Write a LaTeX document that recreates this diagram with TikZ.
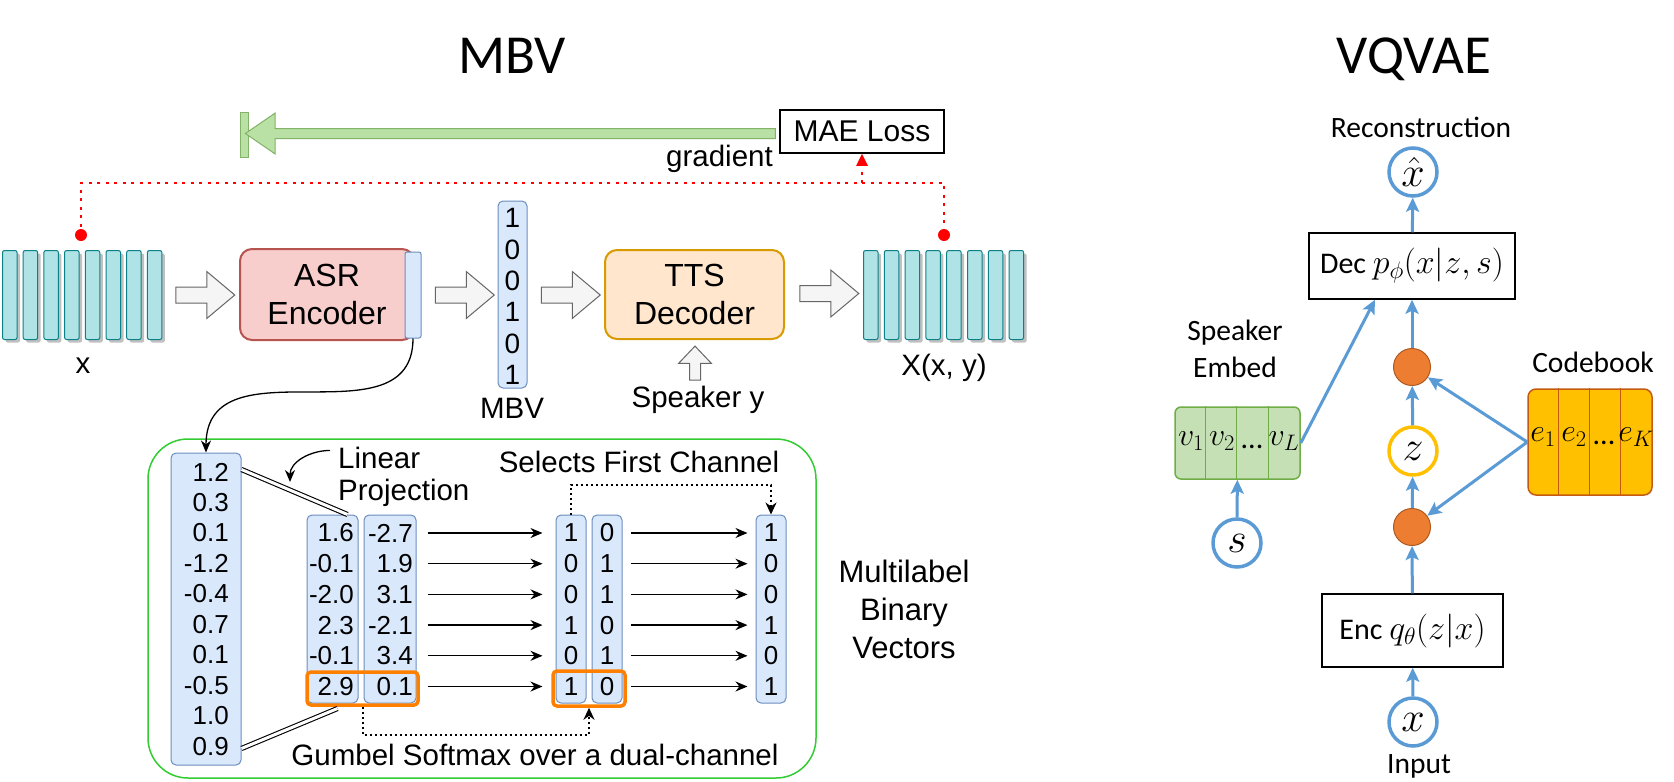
\RequirePackage{fix-cm}
\documentclass[tikz,border=0pt]{standalone}
\usepackage{fontspec}
\setmainfont{Liberation Sans}
\newfontfamily\calfont{Carlito}
\usetikzlibrary{arrows.meta,shapes.arrows,shadows,calc}
\newcommand{\myfs}[2]{\fontsize{#1}{#2}\selectfont}
\definecolor{specfill}{HTML}{B0E3E6}
\definecolor{specdraw}{HTML}{0E8088}
\definecolor{asrfill}{HTML}{F8CECC}
\definecolor{asrdraw}{HTML}{B85450}
\definecolor{ttsfill}{HTML}{FFE6CC}
\definecolor{ttsdraw}{HTML}{D79B00}
\definecolor{bluefill}{HTML}{DAE8FC}
\definecolor{bluedraw}{HTML}{6C8EBF}
\definecolor{gafill}{HTML}{F5F5F5}
\definecolor{gadraw}{HTML}{666666}
\definecolor{gradfill}{HTML}{B9E0A5}
\definecolor{graddraw}{HTML}{82B366}
\definecolor{hlorange}{HTML}{FF8000}
\definecolor{boxgreen}{HTML}{33CC33}
\definecolor{vqblue}{HTML}{5B9BD5}
\definecolor{vqorange}{HTML}{ED7D31}
\definecolor{vqorangedraw}{HTML}{AE5A21}
\definecolor{vqyellow}{HTML}{FFC000}
\definecolor{spkfill}{HTML}{C5E0B4}
\definecolor{spkdraw}{HTML}{70AD47}
\definecolor{cbdraw}{HTML}{C55A11}
\begin{document}
\begin{tikzpicture}[x=1pt,y=-1pt,
  title/.style={font=\calfont\myfs{55}{64}, inner sep=0pt, anchor=base},
  lbl/.style={font=\myfs{29.5}{35}, inner sep=0pt},
  num/.style={font=\myfs{26}{30}, inner sep=0pt},
  cal/.style={font=\calfont\myfs{29.5}{35}, inner sep=0pt},
  cellm/.style={font=\myfs{32}{38}, inner sep=0pt},
  colbox/.style={draw=bluedraw, fill=bluefill, line width=1pt, rounded corners=5pt, inner sep=0pt},
  specbar/.style={draw=specdraw, fill=specfill, line width=1pt, rounded corners=2pt,
     minimum width=14.5pt, minimum height=89pt, inner sep=0pt, anchor=north west,
     drop shadow={shadow xshift=3pt, shadow yshift=-3pt, fill=black!35, opacity=0.7}},
  gblock/.style={single arrow, draw=gadraw, fill=gafill, line width=1pt, minimum height=59pt,
     inner xsep=0pt, inner ysep=7.5pt, single arrow head extend=15.5pt, single arrow tip angle=80},
  procbox/.style={rounded corners=12pt, line width=2pt, align=center, font=\myfs{32}{38}, inner sep=0pt},
  redline/.style={draw=red, line width=2.5pt, dash pattern=on 3pt off 5.5pt},
  dotline/.style={draw=black, line width=2pt, dash pattern=on 2pt off 3pt},
  harrow/.style={draw=black, line width=1.3pt, -{Stealth[length=12pt,width=10pt]}},
  hlbox/.style={draw=hlorange, line width=3.5pt, rounded corners=4pt, inner sep=0pt},
  vqarrow/.style={draw=vqblue, line width=3pt, -{Stealth[length=14pt,width=13pt,inset=3pt]}},
  vqcirc/.style={circle, draw=vqblue, line width=3.5pt, fill=white, minimum size=48pt, inner sep=0pt, font=\myfs{42}{48}},
  vqdot/.style={circle, fill=vqorange, draw=vqorangedraw, line width=1pt, minimum size=37pt, inner sep=0pt},
  vqbox/.style={draw=black, line width=1.5pt, inner sep=0pt, font=\calfont\myfs{30}{36}}
]
\fill[white] (0,0) rectangle (1674,782);
\useasboundingbox (0,0) rectangle (1674,782);

% titles
\node[title] (tmbv) at (512,73) {MBV};
\node[title] (tvq) at (1414,73) {VQVAE};

% ---------------- MBV pipeline ----------------
\foreach \i in {0,...,7} {
  \node[specbar] (sa\i) at (2+20.7*\i,250) {};
  \node[specbar] (sb\i) at (863+20.8*\i,250) {};
}
\node[lbl, anchor=base] (xlab) at (83,373) {x};
\node[lbl, anchor=base] (Xlab) at (944,375) {X(x, y)};

\node[gblock] (ba1) at (200.5,295) {};
\node[gblock] (ba2) at (460,295) {};
\node[gblock] (ba3) at (566,295) {};
\node[gblock] (ba4) at (824.5,293.5) {};

\node[procbox, draw=asrdraw, fill=asrfill, minimum width=174pt, minimum height=91pt] (asr) at (327,294.5) {ASR\\Encoder};
\node[colbox, rounded corners=2pt, minimum width=16pt, minimum height=86pt] (strip) at (413,295) {};

\node[colbox, minimum width=29pt, minimum height=187pt] (mbv) at (512.5,294.5) {};
\foreach \val [count=\i from 0] in {1,0,0,1,0,1}
  \node[font=\myfs{28}{32}, inner sep=0pt] (m\i) at (512.5,218+31.4*\i) {\val};
\node[lbl, anchor=base] (mbvlab) at (512,418) {MBV};

\node[procbox, draw=ttsdraw, fill=ttsfill, minimum width=179pt, minimum height=89pt] (tts) at (694.5,294.5) {TTS\\Decoder};
\node[gblock, shape border rotate=90, minimum height=34pt, inner xsep=5pt, inner ysep=0pt,
      single arrow head extend=11pt, single arrow tip angle=87] (spkarrow) at (695,366) {};
\node[lbl, anchor=base] (spklab) at (698,407) {Speaker y};

% MAE loss and gradient
\node[draw=black, line width=1.5pt, minimum width=164pt, minimum height=43pt, inner sep=0pt,
      font=\myfs{30}{36}] (mae) at (862,131.5) {MAE Loss};
\node[lbl, anchor=base east] (grad) at (773,166) {gradient};
\node[draw=graddraw, fill=gradfill, line width=1pt, minimum width=8pt, minimum height=45pt, inner sep=0pt] (gbar) at (244,134.5) {};
\node[single arrow, shape border rotate=180, draw=graddraw, fill=gradfill, line width=1pt,
      minimum height=530pt, inner xsep=0pt, inner ysep=4.5pt, single arrow head extend=15.5pt,
      single arrow tip angle=69] (garrow) at (514,133.5) {};

\node[circle, fill=red, inner sep=0pt, minimum size=12pt] (ldot) at (81,235) {};
\node[circle, fill=red, inner sep=0pt, minimum size=12pt] (rdot) at (944,235) {};
\draw[redline] (ldot.center) -- ++(0,-52) -| (rdot.center);
\coordinate (rj) at (862,183);
\draw[redline, -{Triangle[length=12pt,width=11pt]}] (rj) -- (mae.south);

% ---------------- bottom detail box ----------------
\node[draw=boxgreen, line width=1.5pt, rounded corners=40pt, minimum width=668pt,
      minimum height=339pt, inner sep=0pt] (gbox) at (482,608.5) {};

\node[colbox, minimum width=70pt, minimum height=312pt] (col1) at (206,609) {};
\node[colbox, minimum width=51pt, minimum height=188pt] (col2a) at (332.5,609) {};
\node[colbox, minimum width=52pt, minimum height=188pt] (col2b) at (390,609) {};
\node[colbox, minimum width=30pt, minimum height=188pt] (col3a) at (571,609) {};
\node[colbox, minimum width=30pt, minimum height=188pt] (col3b) at (607,609) {};
\node[colbox, minimum width=30pt, minimum height=188pt] (col4) at (771,609) {};

\foreach \val [count=\i from 0] in {1.2,0.3,0.1,-1.2,-0.4,0.7,0.1,-0.5,1.0,0.9}
  \node[num, anchor=east] (l\i) at (229,472+30.5*\i) {\val};

\foreach \a/\b/\c/\d [count=\i from 0] in {1.6/-2.7/1/0,-0.1/1.9/0/1,-2.0/3.1/0/1,2.3/-2.1/1/0,-0.1/3.4/0/1,2.9/0.1/1/0} {
  \node[num, anchor=east] (a\i) at (354,533+30.7*\i) {\a};
  \node[num, anchor=east] (b\i) at (413,533+30.7*\i) {\b};
  \node[num] (c\i) at (571,533+30.7*\i) {\c};
  \node[num] (d\i) at (607,533+30.7*\i) {\d};
  \node[num] (e\i) at (771,533+30.7*\i) {\c};
  \draw[harrow] ($(col2b.east |- b\i)+(11,0)$) -- ($(col3a.west |- c\i)+(-13,0)$);
  \draw[harrow] ($(col3b.east |- d\i)+(8,0)$) -- ($(col4.west |- e\i)+(-8,0)$);
}

\node[hlbox, minimum width=111pt, minimum height=33pt] (hl1) at (362.5,688.5) {};
\node[hlbox, minimum width=72pt, minimum height=35pt] (hl2) at (589,688.5) {};

% double-line projection
\draw[double, double distance=3pt, line width=1.1pt] ([yshift=-17pt]col1.north east) -- ([xshift=-11pt]col2a.north east);
\draw[double, double distance=3pt, line width=1.1pt] ([yshift=17pt]col1.south east) -- ([xshift=-21pt,yshift=-5pt]col2a.south east);

\node[lbl, anchor=base west] (lin) at (338,468) {Linear};
\node[lbl, anchor=base west] (proj) at (338,500) {Projection};
\coordinate (lpa) at (290,482);
\draw[harrow] ($(lin.west)+(-8,-7)$) to[out=180,in=90] (lpa);

\node[lbl, anchor=base] (sel) at (639,472) {Selects First Channel};
\draw[dotline, -{Stealth[length=12pt,width=11pt]}] (col3a.north) -- ++(0,-30) -| (col4.north);

\node[lbl, anchor=base] (gum) at (535,765) {Gumbel Softmax over a dual-channel};
\draw[dotline, -{Stealth[length=12pt,width=11pt]}] (hl1.south) -- ++(0,28) -| (hl2.south);

\node[font=\myfs{31}{37}, inner sep=0pt, anchor=base] (ml1) at (904,582) {Multilabel};
\node[font=\myfs{31}{37}, inner sep=0pt, anchor=base] (ml2) at (904,620) {Binary};
\node[font=\myfs{31}{37}, inner sep=0pt, anchor=base] (ml3) at (904,658) {Vectors};

% curve from encoder output to the detail column
\draw[harrow] (strip.south) .. controls (413,445) and (206,339) .. (col1.north);

% ---------------- VQVAE ----------------
\node[cal, anchor=base] (recon) at (1421,137) {Reconstruction};
\node[vqcirc] (xhat) at (1413,172) {$\hat{x}$};
\node[vqbox, minimum width=206pt, minimum height=66pt] (dec) at (1412,266) {Dec \myfs{34}{40}$p_\phi(x|z,s)$};
\node[vqdot] (dot1) at (1412,367) {};
\node[vqcirc, draw=vqyellow] (zc) at (1413,451) {$z$};
\node[vqdot] (dot2) at (1412,527) {};
\node[vqbox, minimum width=181pt, minimum height=73pt] (enc) at (1412.5,630.5) {Enc \myfs{34}{40}$q_\theta(z|x)$};
\node[vqcirc] (xc) at (1413,722) {$x$};
\node[cal, anchor=base] (inp) at (1419,773) {Input};

\node[cal, anchor=base] (spkl1) at (1235,340) {Speaker};
\node[cal, anchor=base] (spkl2) at (1235,377) {Embed};
\node[cal, anchor=base] (cbl) at (1593,372) {Codebook};

\node[draw=spkdraw, fill=spkfill, line width=1.5pt, rounded corners=6pt, minimum width=125pt,
      minimum height=72pt, inner sep=0pt] (spk) at (1237.5,443) {};
\foreach \k in {1,2,3}
  \draw[spkdraw, line width=1pt] ($(spk.north west)+(31.25*\k,0)$) -- ($(spk.south west)+(31.25*\k,0)$);
\node[cellm] (v1) at (1191,441) {$v_1$};
\node[cellm] (v2) at (1222,441) {$v_2$};
\node[cellm, anchor=base] (v3) at (1252,448) {\calfont\myfs{30}{36}...};
\node[cellm] (v4) at (1284,441) {$v_L$};

\node[draw=cbdraw, fill=vqyellow, line width=1.5pt, rounded corners=8pt, minimum width=124pt,
      minimum height=106pt, inner sep=0pt] (cb) at (1590,442) {};
\foreach \k in {1,2,3}
  \draw[cbdraw, line width=1pt] ($(cb.north west)+(31*\k,0)$) -- ($(cb.south west)+(31*\k,0)$);
\node[cellm] (e1) at (1543,437) {$e_1$};
\node[cellm] (e2) at (1574,437) {$e_2$};
\node[cellm, anchor=base] (e3) at (1604,444) {\calfont\myfs{30}{36}...};
\node[cellm] (e4) at (1636,437) {$e_K$};

\node[vqcirc] (sc) at (1237,543) {$s$};

\draw[vqarrow] (xc) -- (enc);
\draw[vqarrow] (enc) -- (dot2);
\draw[vqarrow] (dot2) -- (zc);
\draw[vqarrow] (zc) -- (dot1);
\draw[vqarrow] (dot1) -- (dec);
\draw[vqarrow] (dec) -- (xhat);
\draw[vqarrow] (sc) -- (spk);
\draw[vqarrow] (spk.east) -- ([xshift=-37pt]dec.south);
\draw[vqarrow] (cb.west) -- (dot1);
\draw[vqarrow] (cb.west) -- (dot2);
\end{tikzpicture}
\end{document}
